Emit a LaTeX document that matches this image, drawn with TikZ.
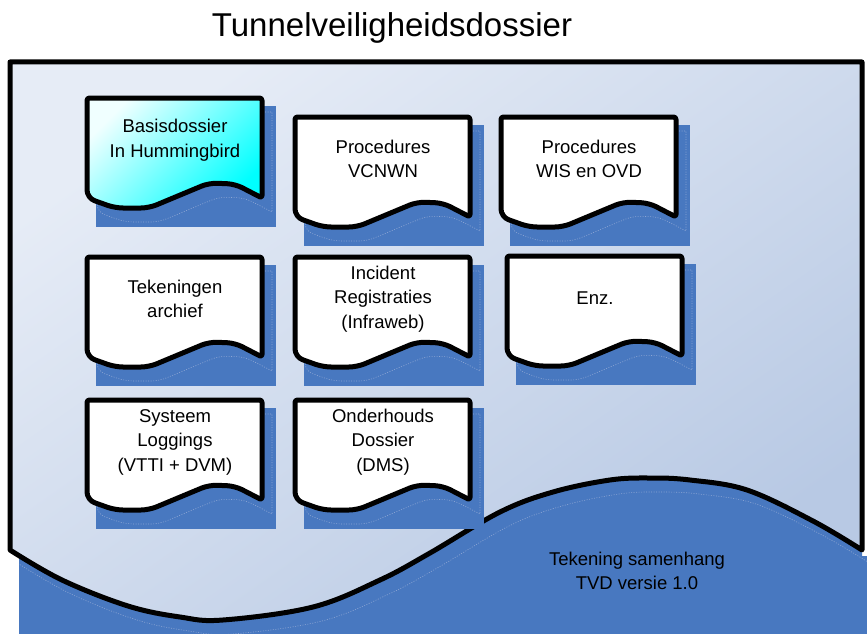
\documentclass[tikz,border=0pt]{standalone}
\usepackage{fontspec}
\setmainfont{Liberation Sans}

\definecolor{tvdblue}{RGB}{72,120,192}
\definecolor{tvdghost}{RGB}{140,166,212}
\definecolor{sheetlight}{RGB}{230,236,246}
\definecolor{sheetdark}{RGB}{184,201,228}

\tikzset{
  outline/.style={draw=black, line width=5pt, line join=round},
  ghost/.style={draw=tvdghost, line width=0.6pt, dash pattern=on 1pt off 1.5pt},
  doctext/.style={align=center, font=\fontsize{18.5}{24.5}\selectfont, inner sep=0pt},
  plainsheet/.style={fill=white},
  cyansheet/.style={top color=cyan!6, middle color=cyan, bottom color=cyan, shading angle=45},
}

% document sheet with drop shadow: name, left, top, fill style, text
\newcommand\tvdSheet[5]{%
  \begin{scope}[shift={(#2,#3)}]
    \fill[tvdblue] (9,8) rectangle (189,129);
    \draw[ghost, shift={(10,14)}] (0,100) -- (0,0) -- (175,0) -- (175,100)
      [rounded corners=8pt] -- (148,86) -- (122,85) -- (62,110) -- (28,110) -- cycle;
    \draw[outline,#4] (0,100) [rounded corners=2.5pt] -- (0,0) -- (175,0) -- (175,100)
      [rounded corners=8pt] -- (148,86) -- (122,85) -- (62,110) -- (28,110) -- cycle;
    \node[doctext] (#1) at (88,42) {#5};
  \end{scope}}

\begin{document}
\begin{tikzpicture}[x=1pt,y=-1pt]
  \useasboundingbox (0,0) rectangle (867,634);

  % title
  \node[font=\fontsize{33}{33}\selectfont, anchor=base, inner sep=0pt] (title) at (392,37) {Tunnelveiligheidsdossier};

  % large background sheet: shadow, faint shadow edge, sheet
  \fill[tvdblue] (19,300) -- (19,634) -- (867,634) -- (867,556) -- (862,556) -- (862,300) -- cycle;
  \draw[ghost, shift={(9,14)}] plot[smooth, tension=0.6] coordinates {(862,550) (813,521) (747,490) (690,480) (650,478) (610,480) (553,492) (500,512) (430,553) (380,580) (313,607) (223,620) (180,617) (128,606) (62,580) (10,550)};
  \draw[outline, top color=sheetlight, bottom color=sheetdark, shading angle=35]
    (10,550) -- (10,62) -- (862,62) -- (862,550)
    -- plot[smooth, tension=0.6] coordinates {(862,550) (813,521) (747,490) (690,480) (650,478) (610,480) (553,492) (500,512) (430,553) (380,580) (313,607) (223,620) (180,617) (128,606) (62,580) (10,550)}
    -- cycle;
  \node[doctext] (caption) at (637,571) {Tekening samenhang\\TVD versie 1.0};

  % document sheets
  \tvdSheet{basis}{87}{98}{cyansheet}{Basisdossier\\In Hummingbird}
  \tvdSheet{vcnwn}{295}{117}{plainsheet}{Procedures\\VCNWN}
  \tvdSheet{wis}{501}{117}{plainsheet}{Procedures\\WIS en OVD}
  \tvdSheet{tekeningen}{87}{257}{plainsheet}{Tekeningen\\archief}
  \tvdSheet{incident}{295}{257}{plainsheet}{Incident\\Registraties\\(Infraweb)}
  \tvdSheet{enz}{507}{256}{plainsheet}{Enz.}
  \tvdSheet{systeem}{87}{400}{plainsheet}{Systeem\\Loggings\\(VTTI + DVM)}
  \tvdSheet{onderhoud}{295}{400}{plainsheet}{Onderhouds\\Dossier\\(DMS)}
\end{tikzpicture}
\end{document}
